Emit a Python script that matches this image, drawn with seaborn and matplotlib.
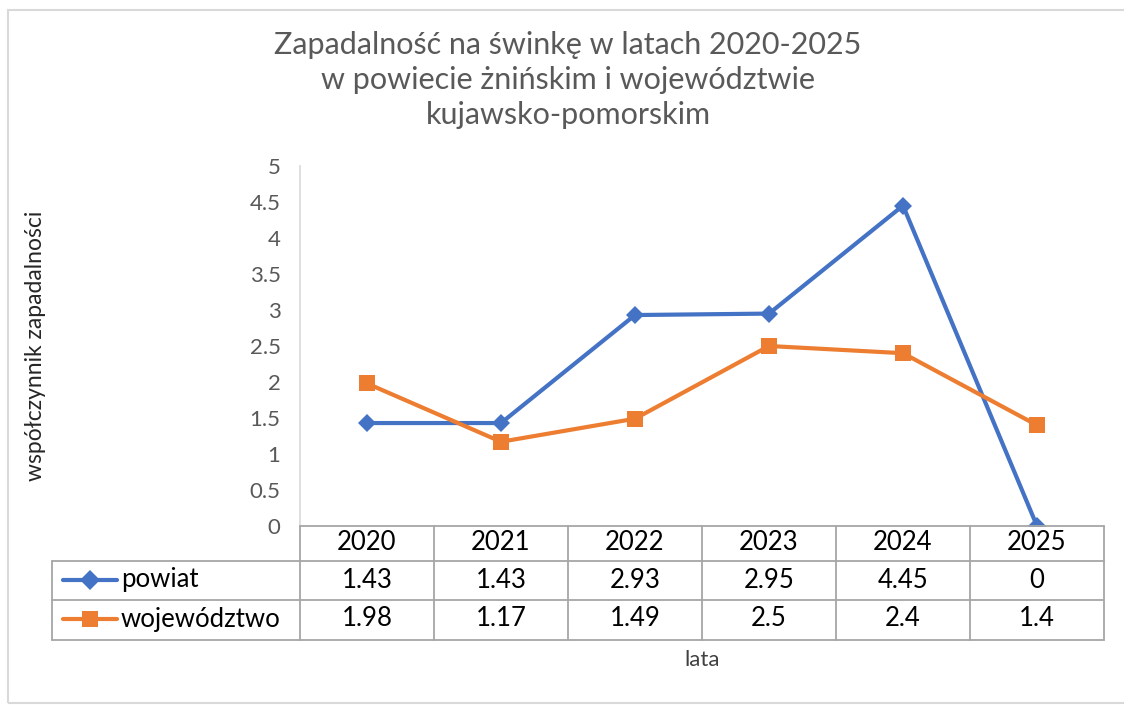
import matplotlib
matplotlib.use("Agg")
import matplotlib.pyplot as plt
from matplotlib.lines import Line2D
from matplotlib.patches import Rectangle
import pandas as pd
import seaborn as sns

# Data
years = ['2020', '2021', '2022', '2023', '2024', '2025']
powiat = [1.43, 1.43, 2.93, 2.95, 4.45, 0]
wojewodztwo = [1.98, 1.17, 1.49, 2.5, 2.4, 1.4]
series_names = ['powiat', 'województwo']
colors = ['#4472C4', '#ED7D31']
markers = ['D', 's']
yticks = [0, 0.5, 1, 1.5, 2, 2.5, 3, 3.5, 4, 4.5, 5]

sns.set_style("white")
plt.rcParams['font.family'] = ['Lato', 'DejaVu Sans']

W, H = 1124, 706
fig = plt.figure(figsize=(W / 100, H / 100), dpi=100)


def fx(px):
    return px / W


def fy(py):
    return 1 - py / H


# outer chart frame
fig.add_artist(Rectangle((fx(8), fy(703)), fx(1200), fy(10) - fy(703),
                         transform=fig.transFigure, fill=False,
                         edgecolor='#d9d9d9', lw=1.5))

x0, x1, ytop, ybot = 300, 1104, 166, 526
ax = fig.add_axes([fx(x0), fy(ybot), fx(x1) - fx(x0), fy(ytop) - fy(ybot)])

df = pd.DataFrame({'rok': list(range(len(years))) * 2,
                   'wartosc': powiat + wojewodztwo,
                   'seria': [series_names[0]] * len(years) + [series_names[1]] * len(years)})

for name, col, mk, ms in zip(series_names, colors, markers, [9, 11]):
    sub = df[df['seria'] == name]
    sns.lineplot(data=sub, x='rok', y='wartosc', ax=ax, color=col, lw=3,
                 marker=mk, markersize=ms, markeredgewidth=0, legend=False)

ax.set_xlim(-0.5, len(years) - 0.5)
ax.set_ylim(0, 5)
ax.set_yticks(yticks)
ax.set_yticklabels([f'{t:g}' for t in yticks], fontsize=16, color='#595959')
ax.set_xticks([])
ax.set_xlabel('')
ax.set_ylabel('')
for s in ['top', 'right', 'bottom']:
    ax.spines[s].set_visible(False)
ax.spines['left'].set_color('#d9d9d9')
ax.spines['left'].set_linewidth(1.2)
ax.tick_params(axis='y', length=6, color='#d9d9d9', width=1.2, pad=8)

# data table
grid = '#a6a6a6'
col_w = (x1 - x0) / len(years)
rows_y = [526, 561, 600, 640]


def hline(y, xa, xb):
    fig.add_artist(Line2D([fx(xa), fx(xb)], [fy(y), fy(y)], transform=fig.transFigure,
                          color=grid, lw=1.3))


def vline(x, ya, yb):
    fig.add_artist(Line2D([fx(x), fx(x)], [fy(ya), fy(yb)], transform=fig.transFigure,
                          color=grid, lw=1.3))


hline(526, x0, x1)
for y in rows_y[1:]:
    hline(y, 52, x1)
for i in range(len(years) + 1):
    vline(x0 + i * col_w, 526, 640)
vline(52, 561, 640)

fs = 18.5
for i, yr in enumerate(years):
    cx = x0 + (i + 0.5) * col_w
    fig.text(fx(cx), fy(543), yr, ha='center', va='center', fontsize=fs, color='black')
    fig.text(fx(cx), fy(580), f'{powiat[i]:g}', ha='center', va='center', fontsize=fs, color='black')
    fig.text(fx(cx), fy(619), f'{wojewodztwo[i]:g}', ha='center', va='center', fontsize=fs, color='black')

for name, col, mk, ms, cy in zip(series_names, colors, markers, [10, 12], [580, 619]):
    fig.add_artist(Line2D([fx(63), fx(117)], [fy(cy), fy(cy)], transform=fig.transFigure,
                          color=col, lw=3))
    fig.add_artist(Line2D([fx(90)], [fy(cy)], transform=fig.transFigure, color=col,
                          marker=mk, markersize=ms, markeredgewidth=0))
    fig.text(fx(121), fy(cy), name, ha='left', va='center', fontsize=fs, color='black')

# titles and axis labels
fig.text(fx(568), fy(80), 'Zapadalność na świnkę w latach 2020-2025\nw powiecie żnińskim i województwie\nkujawsko-pomorskim',
         ha='center', va='center', fontsize=22, color='#595959', linespacing=1.3)
fig.text(fx(36), fy(346), 'współczynnik zapadalności', rotation=90, ha='center', va='center',
         fontsize=16.5, color='#262626')
fig.text(fx(702), fy(660), 'lata', ha='center', va='center', fontsize=16, color='#404040')

fig.savefig('out.png', dpi=100, facecolor='white')
